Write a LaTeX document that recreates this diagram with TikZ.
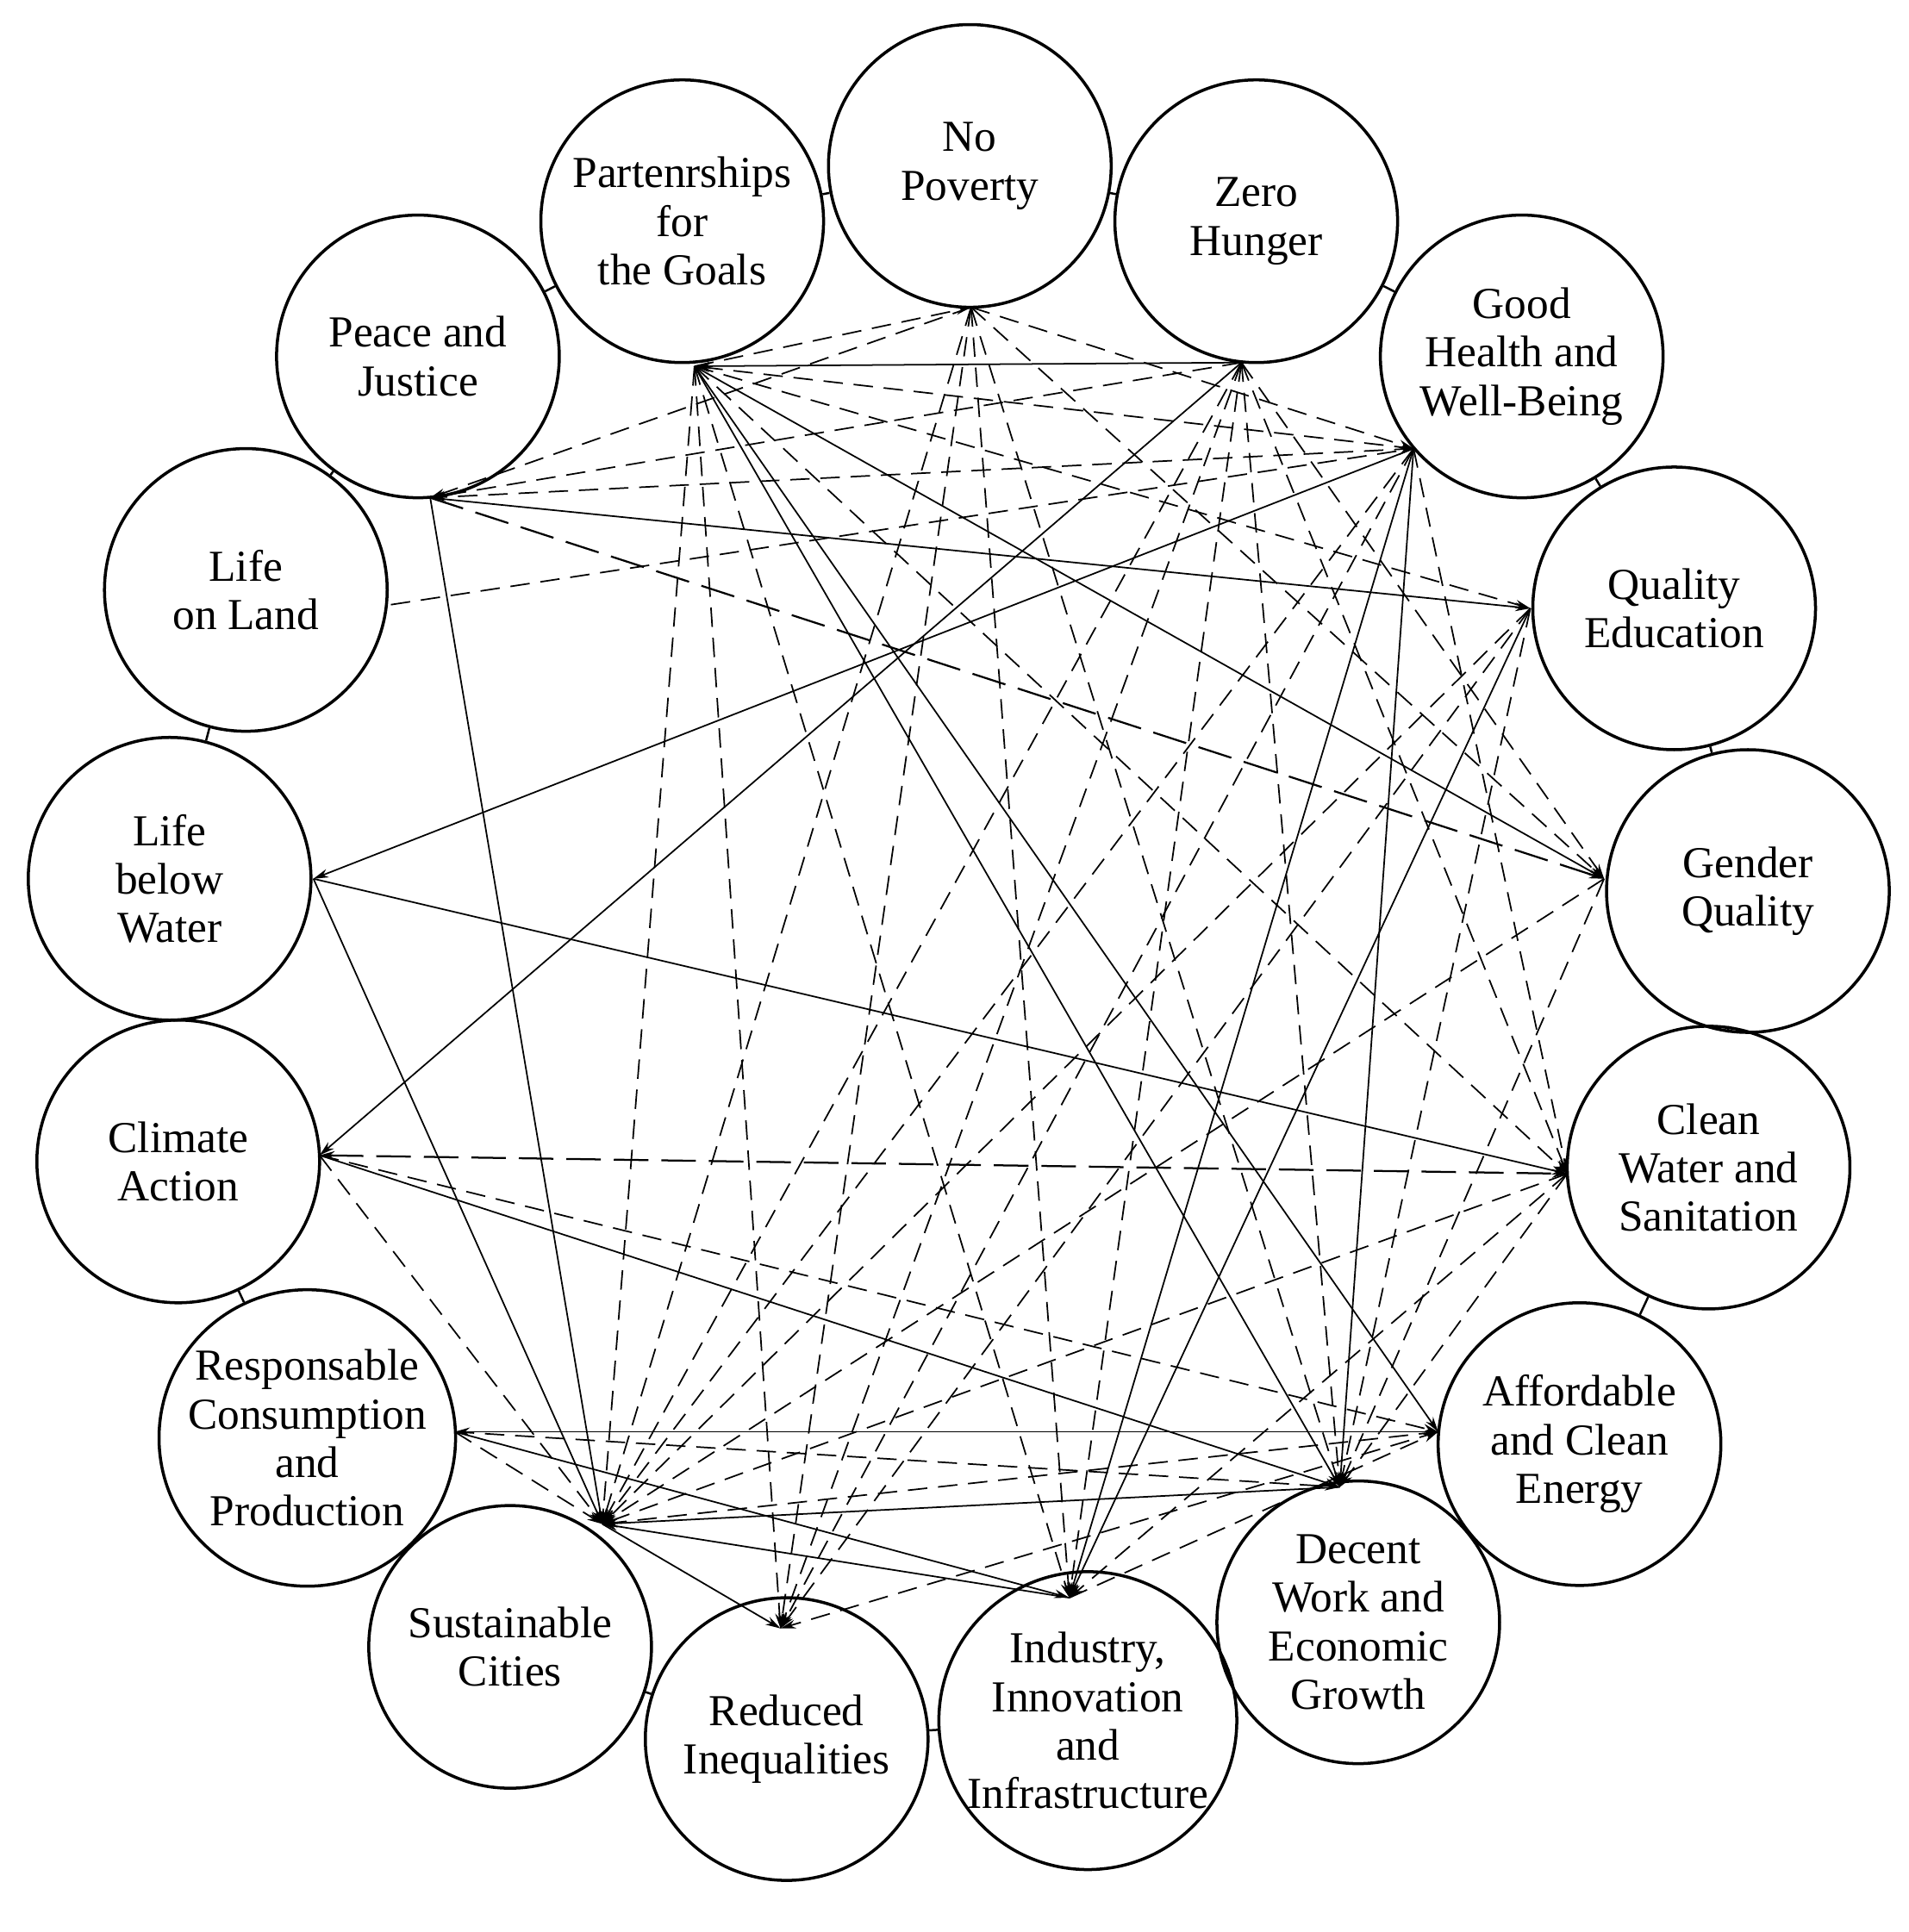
\documentclass[tikz,border=0pt]{standalone}
\usepackage{fontspec}
\setmainfont{Liberation Serif}
\usetikzlibrary{arrows.meta}
\begin{document}
\begin{tikzpicture}[x=0.02cm,y=-0.02cm,
 goal/.style={circle,draw,line width=1.4pt,minimum size=230*0.02cm,inner sep=0pt,align=center,font=\fontsize{20.5}{22.5}\selectfont},
 s/.style={line width=0.7pt,-{Stealth[length=7pt,width=4pt]}},
 d/.style={s,dash pattern=on 9pt off 5pt},
 dl/.style={s,dash pattern=on 16pt off 6pt,line width=0.9pt},
 nb/.style={line width=1pt}]
\useasboundingbox (0,0) rectangle (1553,1572);
\node[goal] (np) at (789,135) {No\\Poverty};
\node[goal] (zh) at (1022,180) {Zero\\Hunger};
\node[goal] (gh) at (1238,290) {Good\\Health and\\Well-Being};
\node[goal] (qe) at (1362,495) {Quality\\Education};
\node[goal] (gq) at (1422,725) {Gender\\Quality};
\node[goal] (cw) at (1390,950) {Clean\\Water and\\Sanitation};
\node[goal] (ae) at (1285,1175) {Affordable\\and Clean\\Energy};
\node[goal] (dw) at (1105,1320) {Decent\\Work and\\Economic\\Growth};
\node[goal] (ii) at (885,1400) {Industry,\\Innovation\\and\\Infrastructure};
\node[goal] (ri) at (640,1415) {Reduced\\Inequalities};
\node[goal] (sc) at (415,1340) {Sustainable\\Cities};
\node[goal] (rc) at (250,1170) {Responsable\\Consumption\\and\\Production};
\node[goal] (ca) at (145,945) {Climate\\Action};
\node[goal] (lbw) at (138,715) {Life\\below\\Water};
\node[goal] (lol) at (200,480) {Life\\on Land};
\node[goal] (pj) at (340,290) {Peace and\\Justice};
\node[goal] (pg) at (555,180) {Partenrships\\for\\the Goals};
\foreach \a/\b in {np/zh,zh/gh,gh/qe,qe/gq,gq/cw,cw/ae,ae/dw,dw/ii,ii/ri,ri/sc,sc/rc,rc/ca,ca/lbw,lbw/lol,lol/pj,pj/pg,pg/np}
  \draw[nb] (\a) -- (\b);
% hubs
\coordinate (Hpg) at (565,298);
\coordinate (Hnp) at (790,250);
\coordinate (Hzh) at (1010,295);
\coordinate (Hgh) at (1150,365);
\coordinate (Hqe) at (1245,495);
\coordinate (Hgq) at (1305,715);
\coordinate (Hcw) at (1275,955);
\coordinate (Hae) at (1170,1165);
\coordinate (Hdw) at (1090,1210);
\coordinate (Hii) at (870,1300);
\coordinate (Hri) at (635,1325);
\coordinate (Hsc) at (490,1240);
\coordinate (Hrc) at (370,1165);
\coordinate (Hca) at (260,940);
\coordinate (Hlbw) at (255,715);
\coordinate (Hlol) at (318,492);
\coordinate (Hpj) at (350,405);
% solid connectors
\foreach \a/\b in {Hzh/Hpg,Hpg/Hgq,Hpg/Hdw,Hpg/Hae,Hpj/Hqe,Hzh/Hca,Hgh/Hlbw,Hlbw/Hcw,Hca/Hdw,Hae/Hrc,Hgh/Hii,Hgh/Hdw,Hqe/Hii,Hpj/Hsc,Hii/Hsc,Hdw/Hsc,Hsc/Hri,Hrc/Hii,Hlbw/Hsc}
  \draw[s] (\a) -- (\b);
% dashed connectors
\foreach \a/\b in {Hpg/Hsc,Hnp/Hsc,Hnp/Hri,Hzh/Hsc,Hgh/Hsc,Hqe/Hsc,Hgq/Hsc,Hcw/Hsc,Hae/Hsc,Hpg/Hcw,Hpg/Hqe,Hnp/Hgh,Hnp/Hdw,Hnp/Hgq,Hpg/Hnp,Hzh/Hpj,Hzh/Hgq,Hzh/Hcw,Hzh/Hri,Hzh/Hii,Hgh/Hpg,Hgh/Hri,Hgh/Hcw,Hqe/Hdw,Hlol/Hgh,Hca/Hae,Hca/Hsc,Hrc/Hdw,Hii/Hae,Hcw/Hii,Hpg/Hii,Hpg/Hri,Hnp/Hii,Hgh/Hpj,Hqe/Hri,Hgq/Hdw,Hcw/Hdw,Hrc/Hsc,Hnp/Hpj,Hzh/Hdw,Hae/Hri}
  \draw[d] (\a) -- (\b);
\draw[dl] (Hpj) -- (Hgq);
\draw[dl,{Stealth[length=7pt,width=4pt]}-{Stealth[length=7pt,width=4pt]}] (Hca) -- (Hcw);
\end{tikzpicture}
\end{document}
